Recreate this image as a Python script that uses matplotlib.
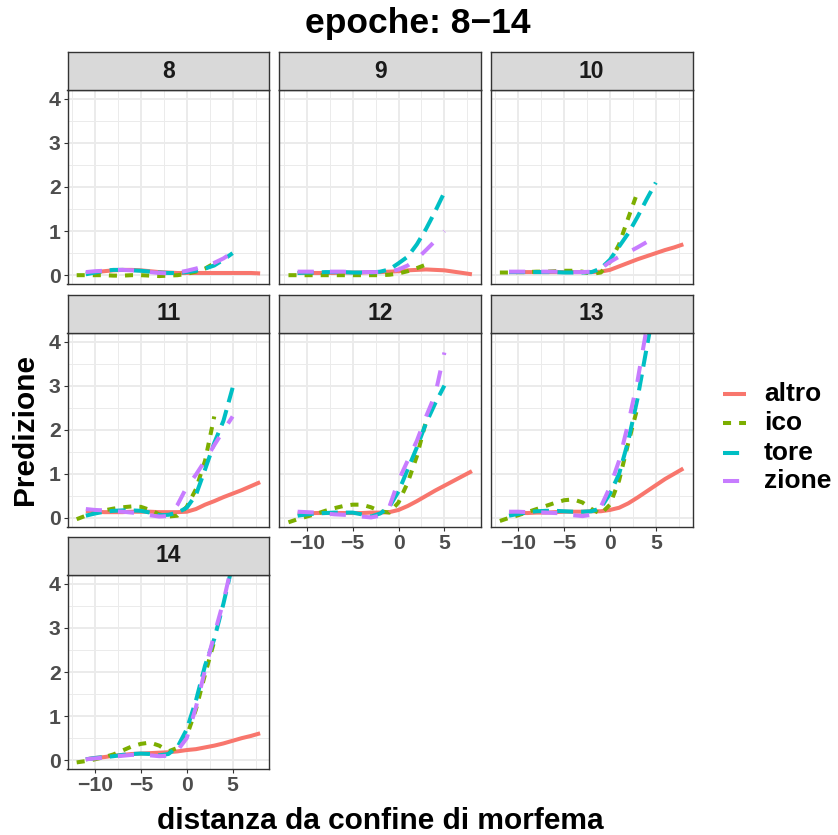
import matplotlib
matplotlib.use('Agg')
import matplotlib.pyplot as plt
from matplotlib.lines import Line2D
from matplotlib.ticker import FixedLocator

plt.rcParams['font.family'] = ['Liberation Sans', 'DejaVu Sans']
plt.rcParams['font.weight'] = 'bold'

# ---------------- data ----------------
epochs = [8, 9, 10, 11, 12, 13, 14]
series = ['altro', 'ico', 'tore', 'zione']

altro_x = list(range(-11, 9))
ico_x = list(range(-12, 4))
tore_x = list(range(-11, 6))
zione_x = list(range(-11, 6))

altro_vals = {
    8:  [0.05,0.07,0.09,0.11,0.12,0.12,0.11,0.09,0.07,0.06,0.05,0.05,0.05,0.05,0.05,0.05,0.05,0.05,0.05,0.04],
    9:  [0.05,0.05,0.05,0.05,0.05,0.06,0.06,0.06,0.07,0.07,0.08,0.09,0.11,0.12,0.13,0.12,0.11,0.08,0.05,0.02],
    10: [0.07,0.07,0.07,0.07,0.07,0.07,0.07,0.07,0.07,0.07,0.08,0.12,0.20,0.28,0.36,0.43,0.50,0.57,0.63,0.70],
    11: [0.15,0.14,0.13,0.13,0.13,0.14,0.14,0.14,0.13,0.13,0.13,0.14,0.20,0.30,0.38,0.47,0.55,0.63,0.72,0.81],
    12: [0.10,0.10,0.11,0.11,0.11,0.11,0.11,0.11,0.12,0.12,0.13,0.18,0.27,0.38,0.50,0.62,0.73,0.84,0.95,1.06],
    13: [0.10,0.11,0.11,0.12,0.12,0.13,0.14,0.14,0.14,0.15,0.15,0.18,0.23,0.33,0.46,0.60,0.74,0.88,1.00,1.12],
    14: [0.02,0.05,0.07,0.10,0.12,0.14,0.15,0.16,0.17,0.18,0.20,0.23,0.25,0.29,0.33,0.38,0.44,0.50,0.55,0.61],
}
ico_vals = {
    8:  [0.00,0.00,0.00,0.00,-0.01,-0.01,0.00,0.00,-0.01,-0.02,-0.01,0.00,0.03,0.08,0.15,0.27],
    9:  [0.00,0.00,0.00,0.00,0.00,0.00,0.00,0.00,0.00,0.00,0.00,0.01,0.04,0.09,0.16,0.24],
    10: [0.06,0.06,0.07,0.07,0.08,0.08,0.09,0.10,0.10,0.08,0.03,0.06,0.30,0.70,1.30,1.88],
    11: [-0.03,0.05,0.12,0.17,0.21,0.24,0.26,0.25,0.18,0.08,0.03,0.05,0.25,0.65,1.30,2.30],
    12: [-0.10,-0.03,0.03,0.09,0.16,0.22,0.27,0.30,0.30,0.24,0.15,0.12,0.35,0.80,1.40,2.20],
    13: [-0.07,0.00,0.06,0.13,0.20,0.27,0.34,0.40,0.42,0.35,0.20,0.09,0.30,0.85,1.70,2.50],
    14: [-0.05,-0.02,0.02,0.07,0.13,0.22,0.31,0.37,0.40,0.33,0.20,0.28,0.55,1.15,1.95,2.70],
}
tore_vals = {
    8:  [0.02,0.06,0.10,0.12,0.12,0.11,0.10,0.08,0.06,0.05,0.05,0.07,0.10,0.15,0.22,0.35,0.50],
    9:  [0.05,0.06,0.06,0.07,0.07,0.07,0.06,0.06,0.06,0.08,0.13,0.27,0.42,0.70,1.05,1.45,1.88],
    10: [0.07,0.07,0.07,0.07,0.07,0.07,0.06,0.06,0.06,0.07,0.15,0.35,0.65,0.95,1.32,1.72,2.10],
    11: [0.05,0.10,0.14,0.16,0.17,0.17,0.16,0.12,0.06,0.07,0.12,0.23,0.52,1.10,1.70,2.20,2.95],
    12: [0.05,0.08,0.10,0.11,0.12,0.12,0.12,0.08,0.03,0.10,0.25,0.60,1.10,1.60,2.15,2.60,3.00],
    13: [0.05,0.09,0.13,0.15,0.16,0.16,0.15,0.14,0.14,0.15,0.22,0.55,1.00,1.75,2.70,3.85,5.00],
    14: [0.02,0.05,0.07,0.09,0.12,0.14,0.15,0.14,0.11,0.14,0.30,0.70,1.35,2.15,2.75,3.55,4.45],
}
zione_vals = {
    8:  [0.07,0.09,0.10,0.12,0.12,0.11,0.10,0.07,0.05,0.04,0.06,0.10,0.15,0.21,0.28,0.38,0.52],
    9:  [0.08,0.08,0.08,0.08,0.08,0.08,0.07,0.07,0.07,0.07,0.08,0.13,0.22,0.37,0.57,0.78,1.00],
    10: [0.08,0.08,0.08,0.08,0.08,0.08,0.07,0.07,0.07,0.08,0.15,0.30,0.42,0.52,0.63,0.75,0.90],
    11: [0.20,0.18,0.17,0.15,0.14,0.12,0.10,0.06,0.03,0.04,0.30,0.70,0.98,1.30,1.65,1.98,2.30],
    12: [0.14,0.13,0.12,0.10,0.08,0.07,0.06,0.03,0.01,0.05,0.25,0.85,1.30,1.75,2.30,2.80,3.75],
    13: [0.14,0.14,0.13,0.13,0.12,0.11,0.10,0.06,0.04,0.07,0.25,0.70,1.30,2.15,3.10,4.30,5.50],
    14: [0.02,0.04,0.06,0.08,0.10,0.12,0.12,0.11,0.09,0.10,0.22,0.50,1.20,2.05,2.85,3.60,4.50],
}

x_ticks = [-10, -5, 0, 5]
y_ticks = [0, 1, 2, 3, 4]
title = 'epoche: 8\u221214'
xlabel = 'distanza da confine di morfema'
ylabel = 'Predizione'

# ---------------- style ----------------
colors = {'altro': '#F8766D', 'ico': '#7CAE00', 'tore': '#00BFC4', 'zione': '#C77CFF'}
styles = {'altro': '-', 'ico': (0, (2, 2)), 'tore': (0, (4, 2)), 'zione': (0, (4, 4))}
xs = {'altro': altro_x, 'ico': ico_x, 'tore': tore_x, 'zione': zione_x}
vals = {'altro': altro_vals, 'ico': ico_vals, 'tore': tore_vals, 'zione': zione_vals}
LW = 2.9

W, H = 838, 835
fig = plt.figure(figsize=(W / 100, H / 100), dpi=100)

col_left = [67.5, 279.3, 490.7]
pw = 201.8
row_top = [90.0, 332.7, 575.0]
ph = 194.0
sh = 38.0

def fx(px):
    return px / W

def fy(py):
    return 1 - py / H

for i, ep in enumerate(epochs):
    r, c = divmod(i, 3)
    L = col_left[c]
    T = row_top[r]
    ax = fig.add_axes([fx(L), fy(T + ph), pw / W, ph / H])
    ax.set_facecolor('white')
    ax.set_xlim(-13, 9)
    ax.set_ylim(-0.2, 4.2)
    ax.xaxis.set_major_locator(FixedLocator(x_ticks))
    ax.yaxis.set_major_locator(FixedLocator(y_ticks))
    ax.xaxis.set_minor_locator(FixedLocator([-12.5, -7.5, -2.5, 2.5, 7.5]))
    ax.yaxis.set_minor_locator(FixedLocator([0.5, 1.5, 2.5, 3.5]))
    ax.grid(which='major', color='#EBEBEB', lw=1.4)
    ax.grid(which='minor', color='#EBEBEB', lw=0.7)
    ax.set_axisbelow(True)
    for s in ax.spines.values():
        s.set_color('#333333')
        s.set_linewidth(1.0)
    show_x = (r == 2) or (r == 1 and c >= 1)
    show_y = (c == 0)
    ax.tick_params(which='minor', length=0)
    ax.tick_params(axis='x', which='major', length=3.0 if show_x else 0, width=0.8,
                   color='#333333', labelsize=15.2, labelcolor='#4D4D4D', pad=2,
                   labelbottom=show_x)
    ax.tick_params(axis='y', which='major', length=3.0 if show_y else 0, width=0.8,
                   color='#333333', labelsize=15.2, labelcolor='#4D4D4D', pad=2,
                   labelleft=show_y)
    if show_x:
        ax.set_xticklabels([str(t).replace('-', '\u2212') for t in x_ticks], fontweight='bold')
    if show_y:
        ax.set_yticklabels([str(t) for t in y_ticks], fontweight='bold')
    for s in series:
        ax.plot(xs[s], vals[s][ep], color=colors[s], linestyle=styles[s], lw=LW,
                dash_capstyle='butt', solid_capstyle='butt')
    # strip
    sax = fig.add_axes([fx(L), fy(T), pw / W, sh / H])
    sax.set_facecolor('#D9D9D9')
    sax.set_xticks([])
    sax.set_yticks([])
    for s in sax.spines.values():
        s.set_color('#333333')
        s.set_linewidth(1.0)
    sax.text(0.5, 0.5, str(ep), ha='center', va='center', fontsize=16.5,
             fontweight='bold', color='#1A1A1A', transform=sax.transAxes)

fig.text(fx(418), fy(33.5), title, ha='center', va='baseline', fontsize=25.5, fontweight='bold')
fig.text(fx(380), fy(829), xlabel, ha='center', va='baseline', fontsize=21.5, fontweight='bold')
fig.text(fx(25), fy(430), ylabel, ha='center', va='center', rotation=90, fontsize=21.5,
         fontweight='bold')

# legend
leg_y = [394.5, 423.3, 452.5, 481.0]
for s, yy in zip(series, leg_y):
    fig.add_artist(Line2D([fx(723), fx(746)], [fy(yy), fy(yy)], color=colors[s],
                          linestyle=styles[s], lw=LW, dash_capstyle='butt',
                          solid_capstyle='butt', transform=fig.transFigure))
    fig.text(fx(764), fy(yy), s, ha='left', va='center', fontsize=19, fontweight='bold')

fig.savefig('out.png', dpi=100)
